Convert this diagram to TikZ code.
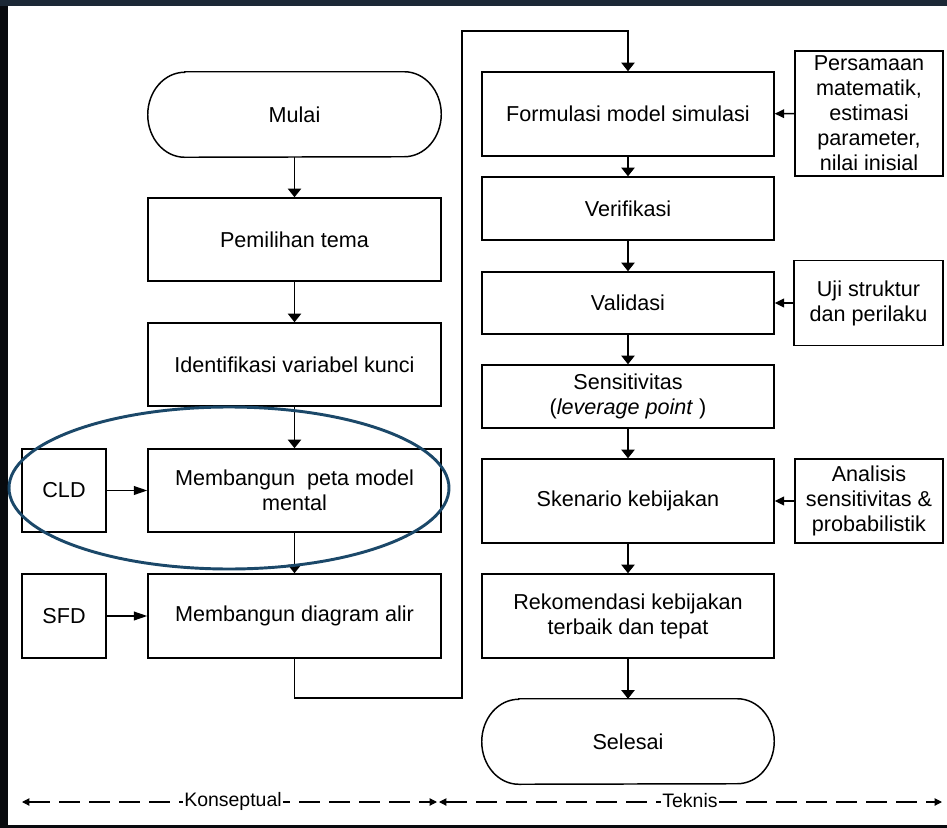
\documentclass[tikz,border=0pt]{standalone}
\usepackage{fontspec}
\setmainfont{Liberation Sans}
\usetikzlibrary{arrows.meta,shapes.geometric}
\definecolor{ringblue}{RGB}{27,72,105}
\definecolor{bandtop}{RGB}{28,40,54}
\definecolor{bandside}{RGB}{8,10,14}

% outline of a start/end terminal drawn around a named node
\newcommand\termoutline[1]{%
  \draw[line width=1.1pt]
    ([xshift=27.75pt]#1.north west) -- ([xshift=-27.75pt]#1.north east)
    arc[start angle=90,end angle=-90,x radius=27.75pt,y radius=31.875pt]
    -- ([xshift=27.75pt]#1.south west)
    arc[start angle=270,end angle=90,x radius=27.75pt,y radius=31.875pt]
    -- cycle;}

\begin{document}
\begin{tikzpicture}[x=0.75pt,y=-0.75pt,
  every node/.style={font=\fontsize{16.2}{18.8}\selectfont, align=center, inner sep=0pt},
  wh/.style 2 args={minimum width=#1*0.75pt, minimum height=#2*0.75pt},
  stepbox/.style={draw, line width=1.1pt, rectangle},
  termbox/.style={rectangle},
  flow/.style={line width=1.1pt, -{Triangle[width=10pt,length=6.5pt]}},
  feed/.style={line width=1.1pt, -{Triangle[width=6.5pt,length=7pt]}},
  srcarrow/.style={line width=1.1pt, -{Triangle[width=6.5pt,length=10pt]}},
  phase/.style={line width=0.8pt, dash pattern=on 16pt off 6.5pt,
    {Triangle[width=5.5pt,length=5.5pt]}-{Triangle[width=5.5pt,length=5.5pt]}},
  phaselabel/.style={fill=white, inner xsep=1pt, inner ysep=2pt, font=\fontsize{14.6}{17}\selectfont},
  ring/.style={draw=ringblue, line width=2.2pt, ellipse}
]
% frame
\fill[bandside] (0,0) rectangle (947,828);
\fill[bandtop] (0,0) rectangle (947,6);
\fill[white] (8,6) rectangle (947,825);

% conceptual column
\node[termbox, wh={293}{85}] (mulai) at (294.5,114.5) {Mulai};
\termoutline{mulai}
\node[stepbox, wh={293}{83}] (tema) at (294.5,239.5) {Pemilihan tema};
\node[stepbox, wh={293}{83}] (kunci) at (294.5,364.5) {Identifikasi variabel kunci};
\node[stepbox, wh={293}{83}] (peta) at (294.5,490.5) {Membangun~ peta model\\mental};
\node[stepbox, wh={293}{84}] (alir) at (294.5,616) {Membangun diagram alir};
\node[stepbox, wh={84}{83}] (cld) at (64,490.5) {CLD};
\node[stepbox, wh={84}{84}] (sfd) at (64,616) {SFD};

% technical column
\node[stepbox, wh={292}{84}] (formulasi) at (628,114) {Formulasi model simulasi};
\node[stepbox, wh={292}{63}] (verifikasi) at (628,208.5) {Verifikasi};
\node[stepbox, wh={292}{62}] (validasi) at (628,303) {Validasi};
\node[stepbox, wh={292}{63}] (sensitivitas) at (628,396.5) {Sensitivitas\\(\textit{leverage point}\ )};
\node[stepbox, wh={292}{84}] (skenario) at (628,501) {Skenario kebijakan};
\node[stepbox, wh={292}{84}] (rekomendasi) at (628,616) {Rekomendasi kebijakan\\terbaik dan tepat};
\node[termbox, wh={292}{85}] (selesai) at (628,741.5) {Selesai};
\termoutline{selesai}

% inputs on the right
\node[stepbox, wh={148}{125}] (persamaan) at (869,113.5) {Persamaan\\matematik,\\estimasi\\parameter,\\nilai inisial};
\node[stepbox, wh={149}{85}] (uji) at (868.5,303) {Uji struktur\\dan perilaku};
\node[stepbox, wh={148}{84}] (analisis) at (869,501) {Analisis\\sensitivitas \&\\probabilistik};

% main flow
\draw[flow] (mulai) -- (tema);
\draw[flow] (tema) -- (kunci);
\draw[flow] (kunci) -- (peta);
\draw[flow] (peta) -- (alir);
\coordinate (jb) at (294.5,698);
\coordinate (jr) at (462,698);
\coordinate (jt) at (462,31);
\coordinate (jf) at (628,31);
\draw[flow] (alir.south) -- (jb) -- (jr) -- (jt) -- (jf) -- (formulasi.north);
\draw[flow] (formulasi) -- (verifikasi);
\draw[flow] (verifikasi) -- (validasi);
\draw[flow] (validasi) -- (sensitivitas);
\draw[flow] (sensitivitas) -- (skenario);
\draw[flow] (skenario) -- (rekomendasi);
\draw[flow] (rekomendasi) -- (selesai);

% side inputs
\draw[srcarrow] (cld) -- (peta);
\draw[srcarrow] (sfd) -- (alir);
\draw[feed] (persamaan) -- (formulasi);
\draw[feed] (uji) -- (validasi);
\draw[feed] (analisis) -- (skenario);

% highlight around the mental-model step
\node[ring, wh={440}{162}] (sorot) at (229,488) {};

% phase bar
\coordinate (ka) at (22,802);
\coordinate (kb) at (437,802);
\coordinate (ta) at (439,802);
\coordinate (tb) at (942,802);
\draw[phase] (ka) -- (kb);
\draw[phase] (ta) -- (tb);
\node[phaselabel] (konseptual) at (233,801) {Konseptual};
\node[phaselabel] (teknis) at (690,801) {Teknis};
\end{tikzpicture}
\end{document}
